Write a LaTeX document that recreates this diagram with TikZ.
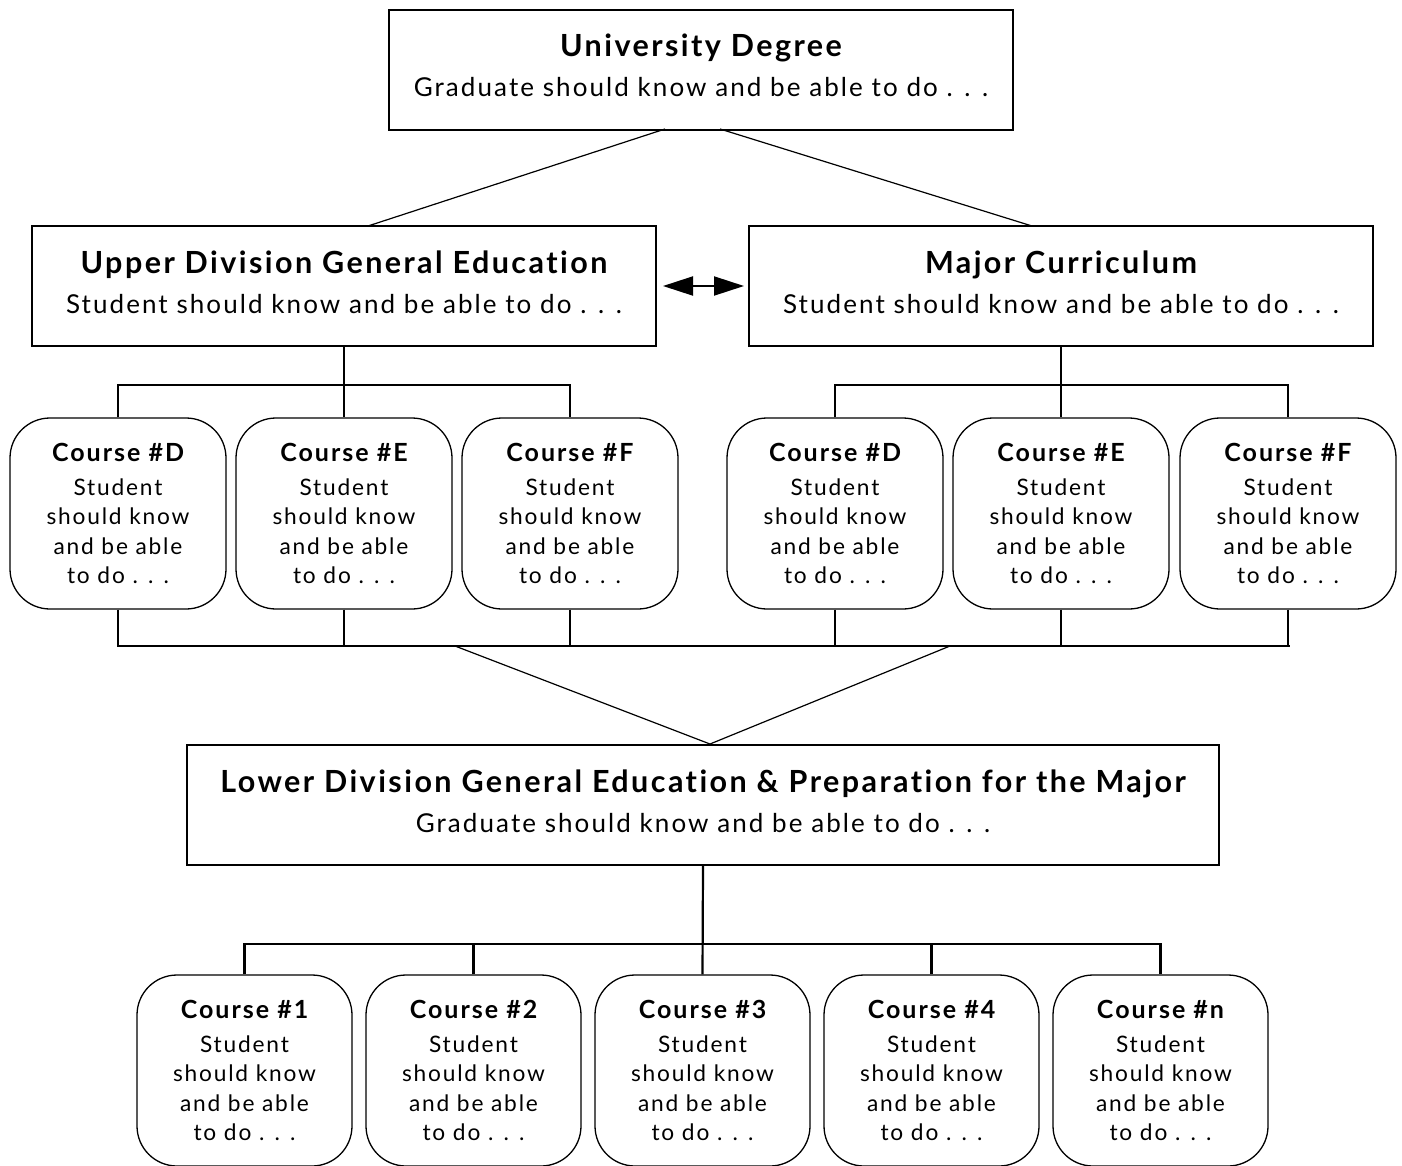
\documentclass[tikz,border=0pt]{standalone}
\usepackage{fontspec}
\setmainfont{Lato}[LetterSpace=8, Ligatures={NoCommon,NoRare}]
\usetikzlibrary{arrows.meta}
\begin{document}
\begin{tikzpicture}[x=1pt,y=-1pt,
  bigbox/.style={draw, line width=2pt, inner sep=0pt, minimum height=120pt},
  boxtext/.style={align=center, inner sep=0pt, font=\fontsize{26}{40}\selectfont},
  course/.style={draw, line width=1.3pt, rounded corners=40pt, minimum width=216pt, minimum height=191pt, inner sep=0pt, align=center, font=\fontsize{22.7}{29.5}\selectfont},
  tree/.style={line width=2.2pt},
  diag/.style={line width=1.2pt}
]
\useasboundingbox (0,0) rectangle (1402,1165);
\newcommand\bigttl{\bfseries\fontsize{30.5}{40}\selectfont}
\newcommand\crsttl{\bfseries\fontsize{25}{29.5}\selectfont}

% main boxes
\node[bigbox, minimum width=624pt] (deg) at (701,69.5) {};
\node[boxtext] (degT) at (701,65) {{\bigttl University Degree}\\Graduate should know and be able to do . . .};
\node[bigbox, minimum width=624pt] (ude) at (344,286) {};
\node[boxtext] (udeT) at (344,282) {{\bigttl Upper Division General Education}\\Student should know and be able to do . . .};
\node[bigbox, minimum width=624pt] (mc) at (1061,286) {};
\node[boxtext] (mcT) at (1061,282) {{\bigttl Major Curriculum}\\Student should know and be able to do . . .};
\node[bigbox, minimum width=1032pt] (ld) at (703,805) {};
\node[boxtext] (ldT) at (703,801) {{\bigttl Lower Division General Education \& Preparation for the Major}\\Graduate should know and be able to do . . .};

% course boxes, upper
\node[course] (c1) at (118,513.5) {{\crsttl Course \#D}\\[4.5pt]Student\\should know\\and be able\\to do . . .};
\node[course] (c2) at (344,513.5) {{\crsttl Course \#E}\\[4.5pt]Student\\should know\\and be able\\to do . . .};
\node[course] (c3) at (570,513.5) {{\crsttl Course \#F}\\[4.5pt]Student\\should know\\and be able\\to do . . .};
\node[course] (c4) at (835,513.5) {{\crsttl Course \#D}\\[4.5pt]Student\\should know\\and be able\\to do . . .};
\node[course] (c5) at (1061,513.5) {{\crsttl Course \#E}\\[4.5pt]Student\\should know\\and be able\\to do . . .};
\node[course] (c6) at (1288,513.5) {{\crsttl Course \#F}\\[4.5pt]Student\\should know\\and be able\\to do . . .};

% course boxes, lower
\node[course, minimum width=215pt] (b1) at (244.5,1070.5) {{\crsttl Course \#1}\\[4.5pt]Student\\should know\\and be able\\to do . . .};
\node[course, minimum width=215pt] (b2) at (473.5,1070.5) {{\crsttl Course \#2}\\[4.5pt]Student\\should know\\and be able\\to do . . .};
\node[course, minimum width=215pt] (b3) at (702.5,1070.5) {{\crsttl Course \#3}\\[4.5pt]Student\\should know\\and be able\\to do . . .};
\node[course, minimum width=215pt] (b4) at (931.5,1070.5) {{\crsttl Course \#4}\\[4.5pt]Student\\should know\\and be able\\to do . . .};
\node[course, minimum width=215pt] (b5) at (1160.5,1070.5) {{\crsttl Course \#n}\\[4.5pt]Student\\should know\\and be able\\to do . . .};

% top diagonals
\coordinate (dl) at (665,129);
\coordinate (dr) at (720,129);
\coordinate (ul) at (368,226);
\coordinate (ur) at (1032,226);
\draw[diag] (dl) -- (ul);
\draw[diag] (dr) -- (ur);

% double arrow
\draw[line width=2pt, {Triangle[length=30pt,width=19pt]}-{Triangle[length=30pt,width=19pt]}, shorten <=6pt, shorten >=4pt] (ude) -- (mc);

% upper trees
\draw[tree] (ude.south) -- (c2.north);
\draw[tree] (c1.north) -- ++(0,-32) -| (c3.north);
\draw[tree] (mc.south) -- (c5.north);
\draw[tree] (c4.north) -- ++(0,-32) -| (c6.north);

% bottom bar
\coordinate (bar) at (0,646);
\draw[tree] (c1.south) |- ([xshift=2pt]c6.south |- bar) ;
\draw[tree] (c6.south) -- (c6.south |- bar);
\foreach \n in {c2,c3,c4,c5} \draw[tree] (\n.south) -- (\n.south |- bar);

% V
\coordinate (vl) at (455,646);
\coordinate (vr) at (950,646);
\coordinate (apex) at (710,744);
\draw[diag] (vl) -- (apex) -- (vr);

% lower tree
\draw[tree] (ld.south) -- (b3.north);
\draw[tree] (b1.north) -- ++(0,-30) -| (b5.north);
\draw[tree] (b2.north) -- ++(0,-30);
\draw[tree] (b4.north) -- ++(0,-30);
\end{tikzpicture}
\end{document}
